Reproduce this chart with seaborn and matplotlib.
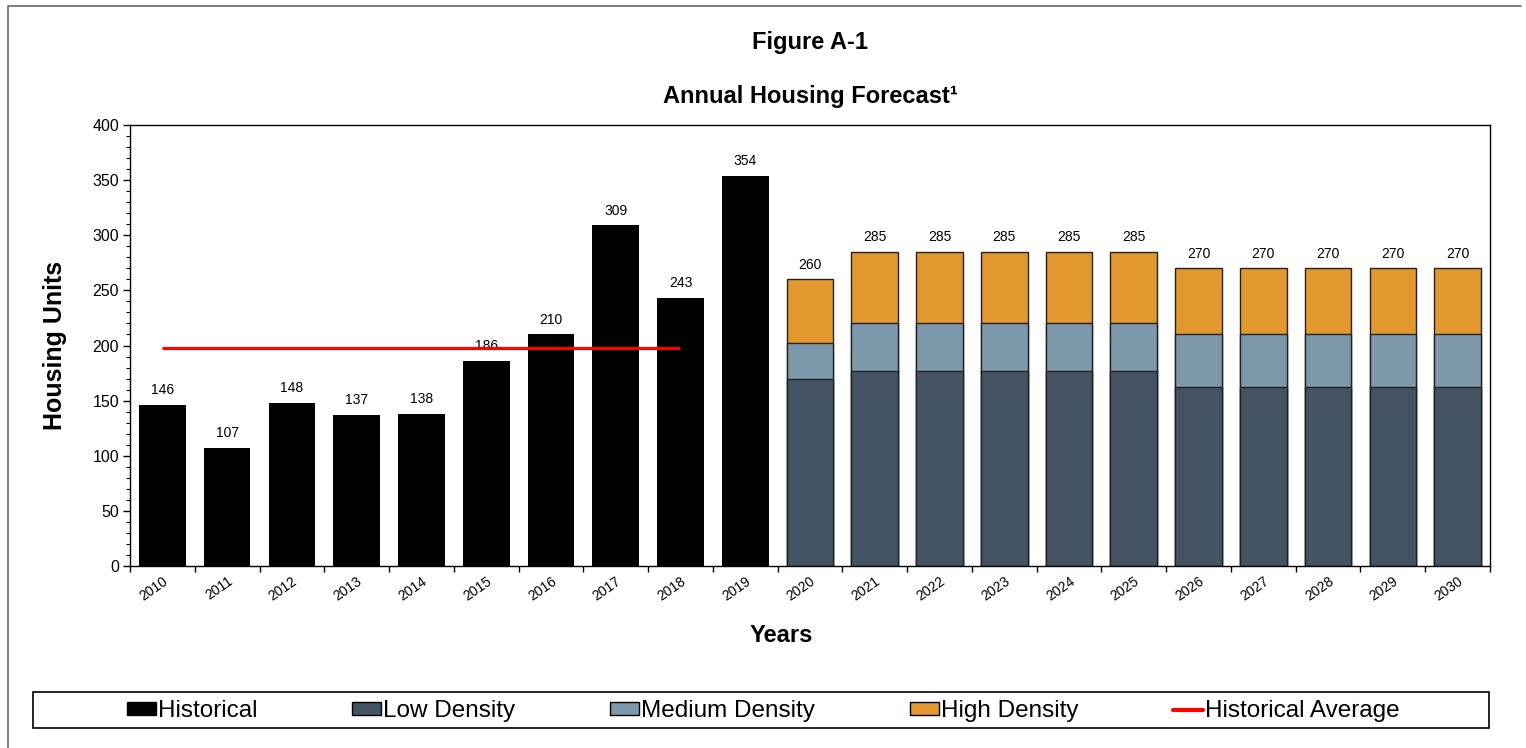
import matplotlib
matplotlib.use("Agg")
import matplotlib.pyplot as plt
from matplotlib.patches import Patch, Rectangle
from matplotlib.lines import Line2D
from matplotlib.ticker import MultipleLocator
import numpy as np
import pandas as pd
import seaborn as sns

# ---- data ----
years = [str(y) for y in range(2010, 2031)]
hist_years = [str(y) for y in range(2010, 2020)]
hist_values = [146, 107, 148, 137, 138, 186, 210, 309, 243, 354]
fc_years = [str(y) for y in range(2020, 2031)]
low_density = [170, 177, 177, 177, 177, 177, 162, 162, 162, 162, 162]
medium_density = [32, 43, 43, 43, 43, 43, 48, 48, 48, 48, 48]
high_density = [58, 65, 65, 65, 65, 65, 60, 60, 60, 60, 60]
avg_years = [str(y) for y in range(2010, 2019)]

FONT = ["Liberation Sans", "Arial", "DejaVu Sans"]
sns.set_style("white")
plt.rcParams["font.family"] = FONT
plt.rcParams["text.color"] = "black"
plt.rcParams["axes.labelcolor"] = "black"
plt.rcParams["xtick.color"] = "black"
plt.rcParams["ytick.color"] = "black"

c_hist = "#000000"
c_low = "#435363"
c_med = "#7D97AB"
c_high = "#E2982E"
c_avg = "#FF0000"

FW, FH = 1526, 748
fig = plt.figure(figsize=(FW / 100, FH / 100), dpi=100)
ax = fig.add_axes([130 / FW, 1 - 566 / FH, 1360 / FW, 441 / FH])

hist_df = pd.DataFrame({"year": hist_years, "value": hist_values})
fc_df = pd.DataFrame({"year": fc_years, "low": low_density,
                      "med": medium_density, "high": high_density})
fc_df["low_med"] = fc_df["low"] + fc_df["med"]
fc_df["total"] = fc_df["low_med"] + fc_df["high"]

W = 0.72
common = dict(order=years, saturation=1, width=W, ax=ax, errorbar=None)
sns.barplot(data=hist_df, x="year", y="value", color=c_hist,
            edgecolor=c_hist, linewidth=0, **common)
sns.barplot(data=fc_df, x="year", y="total", color=c_high,
            edgecolor="#222222", linewidth=1.0, **common)
sns.barplot(data=fc_df, x="year", y="low_med", color=c_med,
            edgecolor="#222222", linewidth=1.0, **common)
sns.barplot(data=fc_df, x="year", y="low", color=c_low,
            edgecolor="#222222", linewidth=1.0, **common)

# historical average line
avg_val = float(np.mean(hist_values))
avg_x = [years.index(y) for y in avg_years]
ax.plot([avg_x[0], avg_x[-1]], [avg_val, avg_val], color=c_avg, lw=2.3,
        solid_capstyle="butt", zorder=5)

# data labels
for y, v in zip(hist_years, hist_values):
    ax.text(years.index(y), v + 7, f"{v}", ha="center", va="bottom",
            fontsize=10, color="black")
for y, t in zip(fc_years, fc_df["total"]):
    ax.text(years.index(y), t + 7, f"{t}", ha="center", va="bottom",
            fontsize=10, color="black")

ax.set_xlim(-0.5, len(years) - 0.5)
ax.set_ylim(0, 400)
ax.yaxis.set_major_locator(MultipleLocator(50))
ax.yaxis.set_minor_locator(MultipleLocator(10))
ax.tick_params(axis="y", which="major", direction="out", length=5, width=1,
               labelsize=11.5, left=True, color="black", pad=3)
ax.tick_params(axis="y", which="minor", direction="out", length=3, width=0.8,
               left=True, color="black")

ax.set_xticks(range(len(years)))
ax.set_xticklabels(years, rotation=35, ha="right", rotation_mode="anchor",
                   fontsize=10)
ax.set_xticks(np.arange(-0.5, len(years), 1.0), minor=True)
ax.tick_params(axis="x", which="major", length=0, pad=6)
ax.tick_params(axis="x", which="minor", direction="out", length=4, width=1,
               bottom=True, color="black")

for s in ax.spines.values():
    s.set_visible(True)
    s.set_color("black")
    s.set_linewidth(1.0)
ax.grid(False)

ax.set_xlabel("Years", fontsize=17, fontweight="bold")
ax.xaxis.set_label_coords((781 - 130) / 1360, (566 - 624) / 441)
ax.set_ylabel("Housing Units", fontsize=18, fontweight="bold")
ax.yaxis.set_label_coords((67 - 130) / 1360, 0.5)

title_x = (130 + 1490) / 2 / FW
fig.text(title_x, 1 - 42 / FH, "Figure A-1", ha="center", va="center",
         fontsize=17, fontweight="bold")
fig.text(title_x, 1 - 97 / FH, "Annual Housing Forecast\u00b9", ha="center",
         va="center", fontsize=17, fontweight="bold")

# legend
handles = [
    Patch(facecolor=c_hist, edgecolor="black", label="Historical"),
    Patch(facecolor=c_low, edgecolor="black", label="Low Density"),
    Patch(facecolor=c_med, edgecolor="black", label="Medium Density"),
    Patch(facecolor=c_high, edgecolor="black", label="High Density"),
    Line2D([0], [0], color=c_avg, lw=3, label="Historical Average"),
]
leg = fig.legend(handles=handles, loc="center",
                 bbox_to_anchor=(0.5, 1 - 711 / FH), ncol=5,
                 frameon=False,
                 prop={"family": FONT, "size": 17.5},
                 handlelength=1.2, handleheight=0.42, handletextpad=0.08,
                 columnspacing=3.9, borderpad=0.0)

# legend frame
fig.patches.append(Rectangle((33 / FW, 1 - 728 / FH), (1489 - 33) / FW,
                             36 / FH, transform=fig.transFigure, fill=False,
                             edgecolor="black", lw=1.2))

# outer figure border (left and top)
fig.add_artist(Line2D([8 / FW, 8 / FW, 1521 / FW], [0, 1 - 6 / FH, 1 - 6 / FH],
                      transform=fig.transFigure, color="#666666", lw=1.2))

fig.savefig("out.png", dpi=100)
